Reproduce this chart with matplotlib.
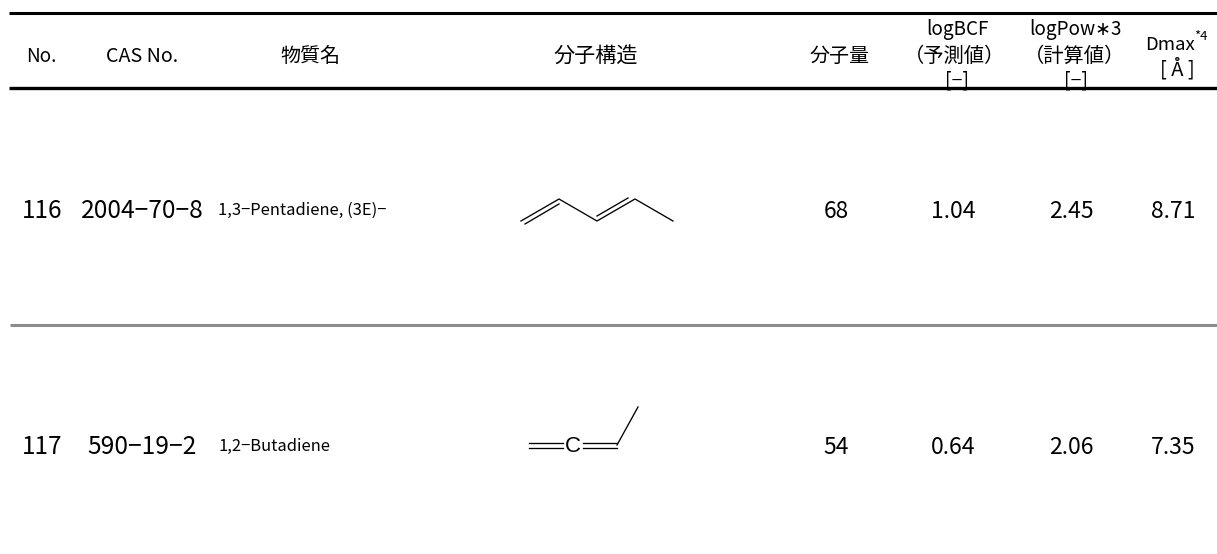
import matplotlib
matplotlib.use('Agg')
import matplotlib.pyplot as plt

plt.rcParams['font.family'] = ['Noto Sans CJK JP', 'DejaVu Sans']

# table content
numbers = ['116', '117']
cas_numbers = ['2004−70−8', '590−19−2']
names = ['1,3−Pentadiene, (3E)−', '1,2−Butadiene']
weights = ['68', '54']
log_bcf = ['1.04', '0.64']
log_pow = ['2.45', '2.06']
dmax = ['8.71', '7.35']

# molecule sketches, in pixels
pentadiene_bonds = [
    [(521, 221), (559, 199), (597, 221), (635, 199), (673, 221)],
    [(525, 224), (559, 204)],
    [(597, 216), (628, 198)],
]
butadiene_bonds = [
    [(529, 442.5), (563, 442.5)],
    [(529, 447.5), (563, 447.5)],
    [(583, 442.5), (617, 442.5)],
    [(583, 447.5), (617, 447.5)],
    [(617, 445), (638, 407)],
]

fig = plt.figure(figsize=(12.17, 5.54), dpi=100)
ax = fig.add_axes([0, 0, 1, 1])
ax.set_xlim(0, 1217)
ax.set_ylim(554, 0)
ax.axis('off')

# rules
ax.plot([9, 1217], [13, 13], color='black', lw=2.2, solid_capstyle='butt', zorder=5)
ax.plot([9, 1217], [88, 88], color='black', lw=2.4, solid_capstyle='butt', zorder=5)
ax.plot([10, 1217], [325, 325], color='#8c8c8c', lw=2.2, solid_capstyle='butt')

# header
ax.text(41, 56, 'No.', ha='center', va='center', fontsize=13.6)
ax.text(142, 56, 'CAS No.', ha='center', va='center', fontsize=14.2)
ax.text(310, 56, '物質名', ha='center', va='center', fontsize=14.4)
ax.text(596, 56, '分子構造', ha='center', va='center', fontsize=15.2)
ax.text(840, 56, '分子量', ha='center', va='center', fontsize=14.4)
ax.text(957, 30, 'logBCF', ha='center', va='center', fontsize=13.6)
ax.text(955, 56, '（予測値）', ha='center', va='center', fontsize=14.6)
ax.text(957, 81, '[−]', ha='center', va='center', fontsize=14)
ax.text(1075, 30, 'logPow∗3', ha='center', va='center', fontsize=13.6)
ax.text(1075, 56, '（計算値）', ha='center', va='center', fontsize=14.6)
ax.text(1076, 81, '[−]', ha='center', va='center', fontsize=14)
ax.text(1170, 45, 'Dmax', ha='center', va='center', fontsize=13.4)
ax.text(1201, 37, '*4', ha='center', va='center', fontsize=9.5)
ax.text(1177, 69, '[ Å ]', ha='center', va='center', fontsize=14.5)

# rows
row_y = [211, 447]
for i, y in enumerate(row_y):
    ax.text(42, y, numbers[i], ha='center', va='center', fontsize=17.5)
    ax.text(142, y, cas_numbers[i], ha='center', va='center', fontsize=17.7)
    ax.text(218, y - 1, names[i], ha='left', va='center', fontsize=11.9)
    ax.text(836, y, weights[i], ha='center', va='center', fontsize=16.4)
    ax.text(953, y, log_bcf[i], ha='center', va='center', fontsize=16.6)
    ax.text(1071, y, log_pow[i], ha='center', va='center', fontsize=16.6)
    ax.text(1173, y, dmax[i], ha='center', va='center', fontsize=16.6)

# molecules
for bond in pentadiene_bonds + butadiene_bonds:
    ax.plot([p[0] for p in bond], [p[1] for p in bond], color='black', lw=0.95)
ax.text(573, 446, 'C', ha='center', va='center', fontsize=16, family='Liberation Sans')

fig.savefig('out.png', dpi=100)
